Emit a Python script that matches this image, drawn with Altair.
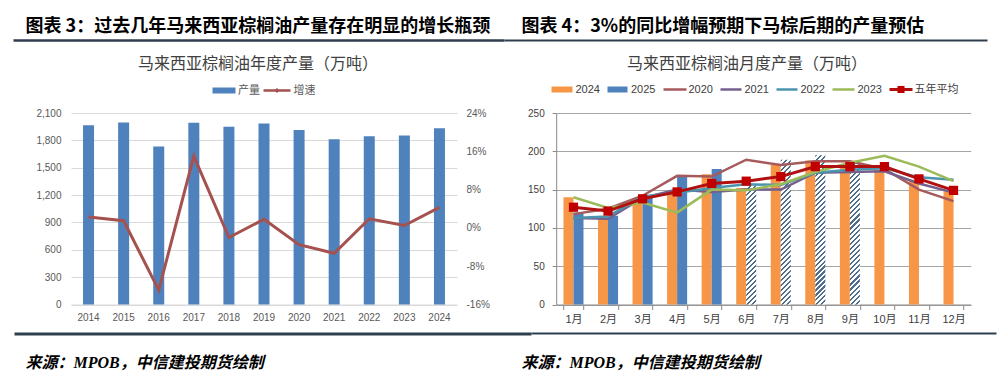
import altair as alt
import pandas as pd

# ---------------- data: left panel (annual) ----------------
years = ["2014", "2015", "2016", "2017", "2018", "2019", "2020", "2021", "2022", "2023", "2024"]
production = [1967, 1996, 1732, 1992, 1950, 1986, 1914, 1812, 1845, 1854, 1934]
growth = [2.3, 1.5, -13.0, 15.0, -2.0, 1.8, -3.5, -5.3, 1.9, 0.5, 4.3]

# ---------------- data: right panel (monthly) ----------------
months = ["1月", "2月", "3月", "4月", "5月", "6月", "7月", "8月", "9月", "10月", "11月", "12月"]
prod_2024 = [140, 113, 134, 148, 170, 152, 182, 188, 182, 176, 163, 148]
months_2025 = ["1月", "2月", "3月", "4月", "5月"]
prod_2025 = [120, 116, 139, 168, 177]
months_2025e = ["6月", "7月", "8月", "9月"]
prod_2025e = [157, 189, 195, 186]
line_2020 = [118, 125, 142, 168, 167, 189, 182, 187, 187, 177, 150, 135]
line_2021 = [113, 112, 139, 150, 147, 150, 150, 172, 173, 174, 158, 146]
line_2022 = [113, 115, 141, 146, 152, 157, 156, 172, 176, 178, 166, 163]
line_2023 = [140, 126, 133, 120, 150, 149, 157, 173, 185, 194, 180, 161]
avg5 = [127, 122, 138, 147, 158, 161, 167, 180, 180, 180, 164, 149]

# ---------------- layout constants ----------------
CJK = "Noto Sans CJK SC"
LAT = "Liberation Sans, Noto Sans CJK SC"
PW1, PW2, PH = 386, 414.6, 191.5
GAP = 99.2
OX1, OY = 70.5, 112.5
OX2 = OX1 + PW1 + GAP
DARK = "#2F3E4E"

one = pd.DataFrame({"k": [0]})


def txt(s, x, y, ox, size, weight="normal", style="normal", color="#000000",
        align="left", font=CJK):
    return alt.Chart(one).mark_text(
        text=s, align=align, baseline="middle", fontSize=size, fontWeight=weight,
        fontStyle=style, color=color, font=font
    ).encode(x=alt.value(x - ox), y=alt.value(y - OY))


def hrule(x1, x2, y, ox, color, width):
    return alt.Chart(one).mark_rule(color=color, strokeWidth=width).encode(
        x=alt.value(x1 - ox), x2=alt.value(x2 - ox), y=alt.value(y - OY))


def marker(x, y, ox, shape, size, color):
    return alt.Chart(one).mark_point(shape=shape, size=size, filled=True, color=color,
                                     opacity=1).encode(
        x=alt.value(x - ox), y=alt.value(y - OY))


# ================= LEFT PANEL =================
BLUE = "#4F81BD"
GROWTH = "#A5524F"
dfy = pd.DataFrame({"year": years, "production": production, "growth": growth})

xl = alt.X("year:N", title=None, sort=years,
           scale=alt.Scale(paddingInner=0, paddingOuter=0),
           axis=alt.Axis(labelAngle=0, ticks=False, domainColor="#D9D9D9",
                         labelPadding=8, labelFontSize=10, labelColor="#595959",
                         labelFont=LAT))

bars_l = alt.Chart(dfy).mark_bar(size=11, color=BLUE).encode(
    x=xl,
    y=alt.Y("production:Q", title=None, scale=alt.Scale(domain=[0, 2100], nice=False),
            axis=alt.Axis(values=list(range(0, 2101, 300)),
                          labelExpr="format(datum.value, ',d')", grid=True,
                          gridColor="#D9D9D9", domain=False, ticks=False,
                          labelPadding=10, labelFontSize=10, labelColor="#595959",
                          labelFont=LAT)))

line_l = alt.Chart(dfy).mark_line(color=GROWTH, strokeWidth=3).encode(
    x=xl,
    y=alt.Y("growth:Q", title=None, scale=alt.Scale(domain=[-16, 24], nice=False),
            axis=alt.Axis(orient="right", values=[-16, -8, 0, 8, 16, 24],
                          labelExpr="datum.value + '%'", grid=False, domain=False,
                          ticks=False, labelPadding=9, labelFontSize=10,
                          labelColor="#595959", labelFont=LAT)))

deco_l = [
    hrule(8, 9, 8.25, OX1, "#FFFFFF", 0.5),  # top-left anchor
    txt("图表 3：过去几年马来西亚棕榈油产量存在明显的增长瓶颈", 25, 26.5, OX1, 18, weight="bold"),
    hrule(13, 504, 40, OX1, DARK, 2.5),
    hrule(14, 531, 333.5, OX1, DARK, 3),
    txt("来源：MPOB，中信建投期货绘制", 25, 362, OX1, 16, weight="bold", style="italic",
        font="Liberation Serif, Noto Sans CJK SC"),
    txt("马来西亚棕榈油年度产量（万吨）", 257.5, 63, OX1, 16, color="#404040", align="center"),
    hrule(212, 235, 90, OX1, BLUE, 6),
    txt("产量", 237.5, 90, OX1, 11, color="#595959"),
    hrule(263, 290, 90, OX1, GROWTH, 2.5),
    marker(276.5, 90, OX1, "diamond", 25, GROWTH),
    txt("增速", 293, 90, OX1, 11, color="#595959"),
]

left = alt.layer(bars_l, line_l, *deco_l).resolve_scale(y="independent").properties(
    width=PW1, height=PH)

# ================= RIGHT PANEL =================
ORANGE = "#F79646"
STRIPE = "#4E6E8E"
C2020, C2021, C2022, C2023 = "#A65A5C", "#75608C", "#4A94AE", "#9BBB59"
CAVG = "#B01010"

xr = alt.X("month:N", title=None, sort=months,
           scale=alt.Scale(domain=months, paddingInner=0.42, paddingOuter=0.21),
           axis=alt.Axis(labelAngle=0, ticks=True, tickBand="extent", tickSize=5,
                         tickColor="#888888", domainColor="#888888", labelPadding=3.5,
                         labelFontSize=11, labelColor="#404040", labelFont=LAT))
yr = alt.Y("value:Q", title=None, scale=alt.Scale(domain=[0, 250], nice=False),
           axis=alt.Axis(values=[0, 50, 100, 150, 200, 250], grid=True, gridColor="#A6A6A6",
                         domainColor="#888888", tickColor="#888888", tickSize=4,
                         labelPadding=8, labelFontSize=10, labelColor="#404040",
                         labelFont=LAT))
xo = alt.XOffset("series:N", scale=alt.Scale(domain=["2024", "2025"]))

df24 = pd.DataFrame({"month": months, "series": "2024", "value": prod_2024})
df25 = pd.DataFrame({"month": months_2025, "series": "2025", "value": prod_2025})

bars_24 = alt.Chart(df24).mark_bar(color=ORANGE).encode(x=xr, xOffset=xo, y=yr)
bars_25 = alt.Chart(df25).mark_bar(color=BLUE).encode(x=xr, xOffset=xo, y=yr)

step = PW2 / 12.0
bar_w = step * (1 - 0.42) / 2.0


def hatch(value):
    w = bar_w
    h = value * PH / 250.0
    k = (w + h) / (w * w + h * h)
    n = max(1, int(round((w + h) / 5.0)))
    stops = []
    for i in range(n):
        a = i / n
        b = (i + 0.42) / n
        c = (i + 1) / n
        stops += [{"offset": a, "color": STRIPE}, {"offset": b, "color": STRIPE},
                  {"offset": b, "color": "#FFFFFF"}, {"offset": c, "color": "#FFFFFF"}]
    return {"gradient": "linear", "x1": 0, "y1": 0, "x2": k * w, "y2": k * h,
            "stops": stops}


hatched = []
for m, v in zip(months_2025e, prod_2025e):
    d = pd.DataFrame({"month": [m], "series": ["2025"], "value": [v]})
    hatched.append(alt.Chart(d).mark_bar(fill=hatch(v)).encode(x=xr, xOffset=xo, y=yr))

lines_r = []
for name, vals, col in [("2020", line_2020, C2020), ("2021", line_2021, C2021),
                        ("2022", line_2022, C2022), ("2023", line_2023, C2023)]:
    d = pd.DataFrame({"month": months, "value": vals})
    lines_r.append(alt.Chart(d).mark_line(color=col, strokeWidth=2.5).encode(x=xr, y=yr))

davg = pd.DataFrame({"month": months, "value": avg5})
avg_line = alt.Chart(davg).mark_line(
    color=CAVG, strokeWidth=3,
    point=alt.OverlayMarkDef(shape="square", size=85, filled=True, color="#C00000")
).encode(x=xr, y=yr)

LY = 89
deco_r = [
    txt("图表 4：3%的同比增幅预期下马棕后期的产量预估", 521, 26.5, OX2, 18, weight="bold"),
    hrule(504, 987, 40, OX2, DARK, 2),
    hrule(531, 996, 333, OX2, DARK, 2),
    txt("来源：MPOB，中信建投期货绘制", 521, 362, OX2, 16, weight="bold", style="italic",
        font="Liberation Serif, Noto Sans CJK SC"),
    txt("马来西亚棕榈油月度产量（万吨）", 746.5, 63, OX2, 16, color="#404040", align="center"),
    hrule(551, 572, LY, OX2, ORANGE, 6),
    txt("2024", 575, LY, OX2, 11, color="#404040", font=LAT),
    hrule(607, 627, LY, OX2, BLUE, 6),
    txt("2025", 630.5, LY, OX2, 11, color="#404040", font=LAT),
    hrule(663, 686, LY, OX2, C2020, 2.5),
    txt("2020", 688, LY, OX2, 11, color="#404040", font=LAT),
    hrule(720, 741, LY, OX2, C2021, 2.5),
    txt("2021", 744, LY, OX2, 11, color="#404040", font=LAT),
    hrule(776, 797, LY, OX2, C2022, 2.5),
    txt("2022", 800, LY, OX2, 11, color="#404040", font=LAT),
    hrule(832, 854, LY, OX2, C2023, 2.5),
    txt("2023", 857, LY, OX2, 11, color="#404040", font=LAT),
    hrule(889, 912, LY, OX2, CAVG, 3),
    marker(900.5, LY, OX2, "square", 50, "#C00000"),
    txt("五年平均", 914, LY, OX2, 11, color="#404040"),
]

right = alt.layer(bars_24, bars_25, *hatched, *lines_r, avg_line, *deco_r).properties(
    width=PW2, height=PH)

chart = alt.hconcat(left, right, spacing=GAP, bounds="flush").properties(
    padding=0, background="white"
).configure_view(stroke=None)

chart.save("out.html", embed_options={"renderer": "svg", "actions": False})
